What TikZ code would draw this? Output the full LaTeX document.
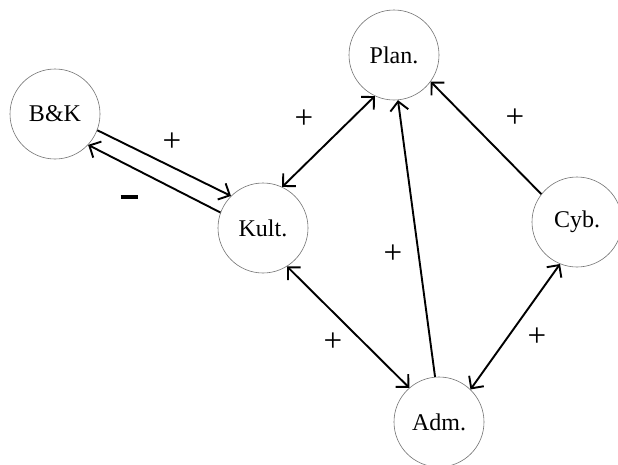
\documentclass[tikz,border=0pt]{standalone}
\usepackage{fontspec}
\setmainfont{Liberation Serif}
\usetikzlibrary{arrows.meta}
\begin{document}
\begin{tikzpicture}[x=1pt,y=-1pt,
  ent/.style={circle,draw=black!55,line width=0.6pt,minimum size=90pt,inner sep=0pt,font=\fontsize{24}{26}\selectfont},
  conn/.style={line width=1.9pt,-{Straight Barb[length=9pt,width=18pt,line width=1.9pt]}},
  bconn/.style={line width=1.9pt,{Straight Barb[length=9pt,width=18pt,line width=1.9pt]}-{Straight Barb[length=9pt,width=18pt,line width=1.9pt]}},
  sign/.style={font=\fontsize{33}{35}\selectfont,inner sep=0pt}]
\useasboundingbox (0,0) rectangle (618,464);
\fill[white] (0,0) rectangle (618,464);
\node[ent] (bk) at (55,114) {B\&K};
\node[ent] (plan) at (394,55) {Plan.};
\node[ent] (kult) at (263,228) {Kult.};
\node[ent] (cyb) at (577,222) {Cyb.};
\node[ent] (adm) at (439,422) {Adm.};
\draw[conn] (bk.-21) -- (kult.135);
\draw[conn] (kult.160) -- (bk.-43);
\draw[bconn] (kult.65) -- (plan.-115);
\draw[conn] (adm.95) -- (plan.-85);
\draw[conn] (cyb.142) -- (plan.-36);
\draw[bconn] (kult.-58) -- (adm.131);
\draw[bconn] (cyb.-112) -- (adm.46);
\node[sign] (s1) at (172,142) {+};
\node[sign] (s2) at (304,119) {+};
\node[sign] (s3) at (515,118) {+};
\node[sign] (s4) at (393,254) {+};
\node[sign] (s5) at (333,342) {+};
\node[sign] (s6) at (537,337) {+};
\node[inner sep=0pt] (m1) at (129,197) {\rule{17pt}{4pt}};
\end{tikzpicture}
\end{document}
